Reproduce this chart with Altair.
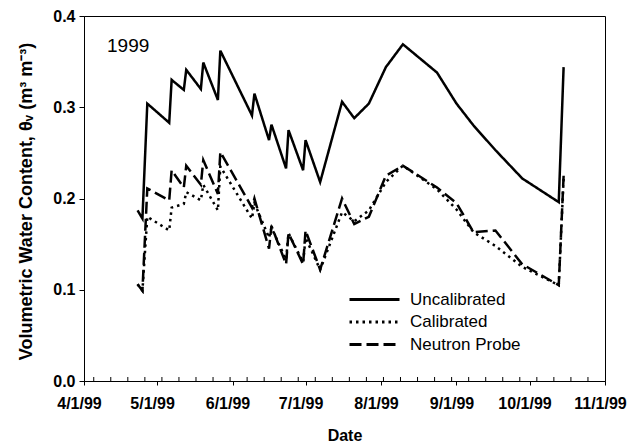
import altair as alt
import pandas as pd

# Measurement dates (1999)
dates = ["1999-04-23", "1999-04-25", "1999-04-27", "1999-05-06", "1999-05-07",
         "1999-05-12", "1999-05-13", "1999-05-19", "1999-05-20", "1999-05-26",
         "1999-05-27", "1999-06-09", "1999-06-10", "1999-06-16", "1999-06-17",
         "1999-06-23", "1999-06-24", "1999-06-30", "1999-07-01", "1999-07-07",
         "1999-07-16", "1999-07-21", "1999-07-27", "1999-08-03", "1999-08-10",
         "1999-08-24", "1999-09-01", "1999-09-08", "1999-09-17", "1999-09-28",
         "1999-10-13", "1999-10-15"]

uncalibrated = [0.187, 0.178, 0.304, 0.283, 0.330, 0.319, 0.341, 0.320, 0.349, 0.308,
                0.362, 0.291, 0.315, 0.264, 0.281, 0.233, 0.275, 0.231, 0.264, 0.218,
                0.306, 0.288, 0.304, 0.344, 0.369, 0.338, 0.304, 0.280, 0.253, 0.222,
                0.196, 0.344]

calibrated = [0.106, 0.099, 0.180, 0.165, 0.190, 0.194, 0.207, 0.198, 0.215, 0.187,
              0.235, 0.178, 0.195, 0.157, 0.168, 0.133, 0.162, 0.130, 0.157, 0.122,
              0.185, 0.175, 0.187, 0.218, 0.236, 0.210, 0.188, 0.163, 0.148, 0.125,
              0.105, 0.222]

neutron_probe = [0.106, 0.099, 0.211, 0.198, 0.231, 0.212, 0.236, 0.215, 0.242, 0.205,
                 0.251, 0.190, 0.200, 0.145, 0.170, 0.128, 0.162, 0.128, 0.165, 0.122,
                 0.200, 0.172, 0.180, 0.225, 0.236, 0.212, 0.195, 0.163, 0.165, 0.128,
                 0.105, 0.225]

series_names = ["Uncalibrated", "Calibrated", "Neutron Probe"]
month_ticks = ["1999-04-01", "1999-05-01", "1999-06-01", "1999-07-01",
               "1999-08-01", "1999-09-01", "1999-10-01", "1999-11-01"]
week_ticks = ["1999-04-05", "1999-04-12", "1999-04-19", "1999-04-26",
              "1999-05-03", "1999-05-10", "1999-05-17", "1999-05-24", "1999-05-31",
              "1999-06-07", "1999-06-14", "1999-06-21", "1999-06-28",
              "1999-07-05", "1999-07-12", "1999-07-19", "1999-07-26",
              "1999-08-02", "1999-08-09", "1999-08-16", "1999-08-23", "1999-08-30",
              "1999-09-06", "1999-09-13", "1999-09-20", "1999-09-27",
              "1999-10-04", "1999-10-11", "1999-10-18", "1999-10-25"]
y_ticks = [0.0, 0.1, 0.2, 0.3, 0.4]
year_label = "1999"

rows = []
for name, vals in zip(series_names, [uncalibrated, calibrated, neutron_probe]):
    for d, v in zip(dates, vals):
        rows.append({"date": d, "value": v, "series": name})
df = pd.DataFrame(rows)
weeks_df = pd.DataFrame({"date": week_ticks})


def dt(s):
    y, m, d = (int(p) for p in s.split("-"))
    return alt.DateTime(year=y, month=m, date=d)


FONT = "Liberation Sans"
x_scale = alt.Scale(domain=[dt(month_ticks[0]), dt(month_ticks[-1])], nice=False)
y_scale = alt.Scale(domain=[0, 0.4], nice=False)

x_axis = alt.Axis(values=[dt(t) for t in month_ticks], format="%-m/%-d/%y",
                  title="Date", grid=False, labelOverlap=False, labelFlush=False,
                  labelFontSize=16, labelFontWeight="bold", labelFont=FONT,
                  labelOffset=-5, labelPadding=10, tickSize=4,
                  titleFontSize=16, titleFontWeight="bold", titleFont=FONT,
                  titleY=54, titleBaseline="middle")
y_axis = alt.Axis(values=y_ticks, format=".1f", grid=False,
                  title="Volumetric Water Content, θᵥ (m³ m⁻³)",
                  labelFontSize=16, labelFontWeight="bold", labelFont=FONT,
                  labelPadding=4, tickSize=5,
                  titleFontSize=18, titleFontWeight="bold", titleFont=FONT,
                  titleX=-58, titleY=185, titleAngle=-90,
                  titleAlign="center", titleBaseline="middle")

lines = alt.Chart(df).mark_line(color="black", strokeWidth=2.5, strokeCap="butt").encode(
    x=alt.X("date:T", scale=x_scale, axis=x_axis),
    y=alt.Y("value:Q", scale=y_scale, axis=y_axis),
    strokeDash=alt.StrokeDash("series:N",
                              scale=alt.Scale(domain=series_names,
                                              range=[[1, 0], [2.5, 4], [12, 5]]),
                              legend=alt.Legend(title=None, orient="none",
                                                legendX=264, legendY=275,
                                                symbolType="stroke", symbolSize=2500,
                                                symbolStrokeWidth=3,
                                                symbolStrokeColor="black",
                                                labelFontSize=17, labelFont=FONT,
                                                labelColor="black",
                                                labelOffset=9, rowPadding=4.5,
                                                clipHeight=17, padding=0)),
    detail="series:N",
)

minor = alt.Chart(weeks_df).mark_rule(color="black", strokeWidth=1).encode(
    x=alt.X("date:T", scale=x_scale, axis=x_axis),
    y=alt.value(361),
    y2=alt.value(365),
)

txt = alt.Chart(pd.DataFrame({"t": [year_label]})).mark_text(
    align="left", baseline="middle", fontSize=19, font=FONT, color="black"
).encode(x=alt.value(23), y=alt.value(30), text="t:N")

chart = alt.layer(lines, minor, txt).properties(
    width=521, height=365,
    autosize=alt.AutoSizeParams(type="none"),
    padding={"left": 76, "top": 8, "right": 26, "bottom": 64},
).configure_view(stroke="black", strokeWidth=1).configure_axis(
    domainColor="black", tickColor="black", labelColor="black", titleColor="black",
    domainWidth=1, tickWidth=1
)

chart.save("out.html", embed_options={"renderer": "svg", "actions": False})
